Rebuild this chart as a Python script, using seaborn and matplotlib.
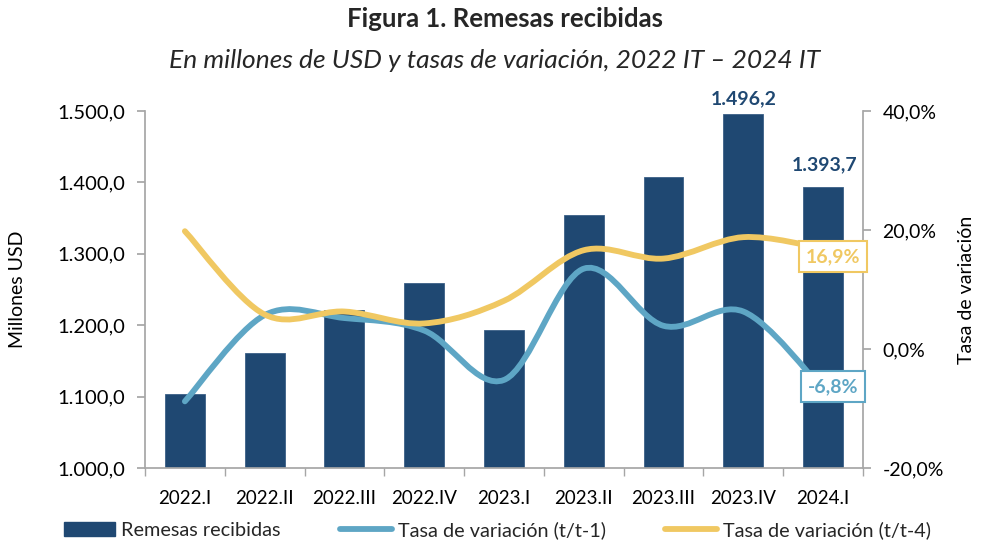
import numpy as np
import pandas as pd
import matplotlib
matplotlib.use("Agg")
import matplotlib.pyplot as plt
import seaborn as sns
from matplotlib.path import Path
from matplotlib.patches import PathPatch, Patch
from matplotlib.lines import Line2D
from matplotlib.ticker import FuncFormatter

categories = ["2022.I", "2022.II", "2022.III", "2022.IV", "2023.I",
              "2023.II", "2023.III", "2023.IV", "2024.I"]
remesas = [1104.0, 1161.0, 1221.0, 1259.0, 1193.0, 1354.0, 1407.0, 1496.2, 1393.7]
tasa_t1 = [-8.8, 5.7, 5.2, 3.1, -5.2, 13.5, 3.9, 6.3, -6.8]
tasa_t4 = [19.8, 5.8, 6.3, 4.3, 8.1, 16.6, 15.2, 18.8, 16.9]

BAR = "#1F4872"
BLUE = "#5EA6C5"
YELLOW = "#F0C862"
GRAY = "#A6A6A6"

sns.set_theme(style="white")
plt.rcParams["font.family"] = ["Lato", "DejaVu Sans"]

fig = plt.figure(figsize=(9.81, 5.45), dpi=100)
ax = fig.add_axes([0.1478, 0.1413, 0.8797 - 0.1478, 0.7963 - 0.1413])

df = pd.DataFrame({"cat": categories, "val": remesas})
sns.barplot(data=df, x="cat", y="val", color=BAR, width=0.5, ax=ax,
            saturation=1, edgecolor="#3B5F86", linewidth=0.6, zorder=2)
ax.set_ylim(1000, 1500)
ax.set_xlim(-0.5, len(categories) - 0.5)
ax.set_yticks(np.arange(1000, 1501, 100))

def fmt_es(v, dec=1):
    s = f"{v:,.{dec}f}"
    return s.replace(",", "X").replace(".", ",").replace("X", ".")

ax.yaxis.set_major_formatter(FuncFormatter(lambda v, p: fmt_es(v)))
ax.set_xlabel("")
ax.set_ylabel("Millones USD", fontsize=14, color="black")
ax.yaxis.set_label_coords((18 - 145) / 718.0, 0.5)
ax.yaxis.label.set_va("center")

ax2 = ax.twinx()
ax2.set_ylim(-20, 40)
ax2.set_yticks([-20, 0, 20, 40])
ax2.yaxis.set_major_formatter(FuncFormatter(lambda v, p: fmt_es(v) + "%"))
ax2.set_ylabel("Tasa de variación", fontsize=14, color="black")
ax2.yaxis.set_label_coords((967 - 145) / 718.0, 0.5)
ax2.yaxis.label.set_va("center")

for a in (ax, ax2):
    for s in a.spines.values():
        s.set_visible(False)

ax.spines["left"].set_visible(True)
ax.spines["left"].set_color(GRAY)
ax.spines["bottom"].set_visible(True)
ax.spines["bottom"].set_color(GRAY)
ax2.spines["right"].set_visible(True)
ax2.spines["right"].set_color(GRAY)

ax.tick_params(axis="y", which="major", left=True, length=6, color=GRAY,
               labelsize=14.5, pad=8, labelcolor="black")
ax.set_xticks(np.arange(len(categories)))
ax.set_xticklabels(categories)
ax.tick_params(axis="x", which="major", bottom=False, labelsize=13.5, pad=10,
               labelcolor="black")
ax.set_xticks(np.arange(-0.5, len(categories), 1), minor=True)
ax.tick_params(axis="x", which="minor", bottom=True, length=6, color=GRAY)
ax2.tick_params(axis="y", right=True, length=6, color=GRAY, labelsize=14,
                pad=8, labelcolor="black")

def smooth_path(xs, ys):
    pts = np.column_stack([xs, ys]).astype(float)
    n = len(pts)
    verts = [pts[0]]
    codes = [Path.MOVETO]
    for i in range(n - 1):
        p0 = pts[i - 1] if i > 0 else pts[i]
        p1 = pts[i]
        p2 = pts[i + 1]
        p3 = pts[i + 2] if i + 2 < n else pts[i + 1]
        c1 = p1 + (p2 - p0) / 6.0
        c2 = p2 - (p3 - p1) / 6.0
        verts += [c1, c2, p2]
        codes += [Path.CURVE4] * 3
    return Path(verts, codes)

xpos = np.arange(len(categories))
for vals, col, z in ((tasa_t1, BLUE, 3), (tasa_t4, YELLOW, 4)):
    patch = PathPatch(smooth_path(xpos, vals), facecolor="none", edgecolor=col,
                      lw=4.2, capstyle="round", joinstyle="round", zorder=z)
    ax2.add_patch(patch)

# bar labels
ax.annotate(fmt_es(remesas[7]), (7, remesas[7]), xytext=(0, 5), textcoords="offset points",
            ha="center", va="bottom", fontsize=14, fontweight="bold", color=BAR)
ax.annotate(fmt_es(remesas[8]), (8, remesas[8]), xytext=(1, 10), textcoords="offset points",
            ha="center", va="bottom", fontsize=14, fontweight="bold", color=BAR)

# line labels
ax2.annotate(fmt_es(tasa_t4[8]) + "%", (8, tasa_t4[8]), xytext=(7, -6),
             textcoords="offset points", ha="center", va="center", fontsize=14,
             fontweight="bold", color=YELLOW, zorder=6,
             bbox=dict(boxstyle="square,pad=0.35", fc="white", ec=YELLOW, lw=1.5))
ax2.annotate(fmt_es(tasa_t1[8]) + "%", (8, tasa_t1[8]), xytext=(7, 2),
             textcoords="offset points", ha="center", va="center", fontsize=14,
             fontweight="bold", color=BLUE, zorder=6,
             bbox=dict(boxstyle="square,pad=0.35", fc="white", ec=BLUE, lw=1.5))

fig.text(0.515, 0.965, "Figura 1. Remesas recibidas", ha="center", va="center",
         fontsize=18.5, fontweight="bold")
fig.text(0.504, 0.889, "En millones de USD y tasas de variación, 2022 IT – 2024 IT",
         ha="center", va="center", fontsize=19, style="italic")

handles = [Patch(facecolor=BAR, edgecolor=BAR),
           Line2D([0], [0], color=BLUE, lw=4.2, solid_capstyle="round"),
           Line2D([0], [0], color=YELLOW, lw=4.2, solid_capstyle="round")]
labels = ["Remesas recibidas", "Tasa de variación (t/t-1)", "Tasa de variación (t/t-4)"]
fig.legend(handles, labels, loc="center", bbox_to_anchor=(0.507, 0.027), ncol=3,
           frameon=False, fontsize=14.3, handlelength=2.6, handletextpad=0.3,
           columnspacing=3.0)

fig.savefig("out.png", dpi=100)
